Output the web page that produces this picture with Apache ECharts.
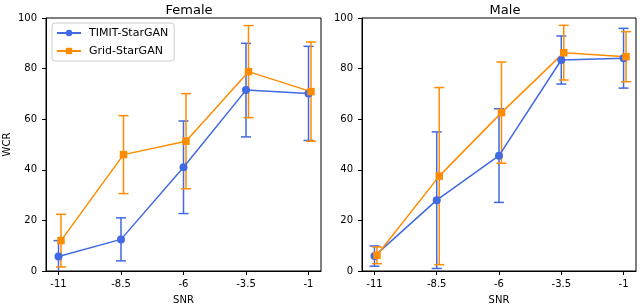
<!DOCTYPE html>
<html>
<head>
<meta charset="utf-8">
<script src="https://cdn.jsdelivr.net/npm/echarts@6/dist/echarts.min.js"></script>
<style>html,body{margin:0;padding:0;background:#fff}#c{width:640px;height:305px}</style>
</head>
<body>
<div id="c"></div>
<script>
const snrTicks = [-11, -8.5, -6, -3.5, -1];
const yTicks = [0, 20, 40, 60, 80, 100];
const seriesNames = ['TIMIT-StarGAN', 'Grid-StarGAN'];
const panelTitles = ['Female', 'Male'];
// Female
const femaleTimit = [5.7, 12.5, 41.0, 71.5, 70.2];
const femaleTimitErr = [6.3, 8.5, 18.3, 18.5, 18.6];
const femaleGrid = [12.0, 46.0, 51.3, 78.8, 70.9];
const femaleGridErr = [10.4, 15.4, 18.8, 18.2, 19.6];
// Male
const maleTimit = [5.9, 28.0, 45.6, 83.4, 84.1];
const maleTimitErr = [4.0, 27.0, 18.5, 9.5, 11.8];
const maleGrid = [6.2, 37.5, 62.6, 86.3, 84.7];
const maleGridErr = [3.3, 35.0, 20.0, 10.8, 9.9];

const BLUE = '#4169e1', ORANGE = '#ff8c00';
const FONT = 'DejaVu Sans';
const DODGE = 0.1; // small horizontal offset for second series

function pts(xs, ys, off) { return xs.map((x, i) => [x + off, ys[i]]); }
function errs(xs, ys, es, off) { return xs.map((x, i) => [x + off, ys[i] - es[i], ys[i] + es[i]]); }

function errSeries(idx, data, color) {
  return {
    type: 'custom', xAxisIndex: idx, yAxisIndex: idx, clip: true, silent: true,
    encode: { x: 0, y: [1, 2] },
    data: data,
    z: 1,
    renderItem: function (params, api) {
      const x = api.value(0), lo = api.value(1), hi = api.value(2);
      const a = api.coord([x, hi]), b = api.coord([x, lo]);
      const w = 5;
      const st = { stroke: color, lineWidth: 1.5, fill: null };
      return {
        type: 'group', children: [
          { type: 'line', shape: { x1: a[0], y1: a[1], x2: b[0], y2: b[1] }, style: st },
          { type: 'line', shape: { x1: a[0] - w, y1: a[1], x2: a[0] + w, y2: a[1] }, style: st },
          { type: 'line', shape: { x1: b[0] - w, y1: b[1], x2: b[0] + w, y2: b[1] }, style: st }
        ]
      };
    }
  };
}

function lineSeries(idx, name, data, color, symbol) {
  return {
    type: 'line', name: name, xAxisIndex: idx, yAxisIndex: idx, data: data,
    symbol: symbol, symbolSize: symbol === 'rect' ? 7.5 : 8,
    lineStyle: { color: color, width: 1.5 },
    itemStyle: { color: color },
    z: 3, animation: false
  };
}

function xAxis(idx) {
  return {
    type: 'value', gridIndex: idx, min: -11.5, max: -0.5,
    name: 'SNR', nameLocation: 'middle', nameGap: 24,
    nameTextStyle: { fontFamily: FONT, fontSize: 10, color: '#000' },
    axisLine: { show: true, onZero: false, lineStyle: { color: '#000', width: 1 } },
    axisTick: { show: true, length: 4, lineStyle: { color: '#000' }, customValues: snrTicks },
    axisLabel: { fontFamily: FONT, fontSize: 10, color: '#000', margin: 8, customValues: snrTicks, formatter: v => String(v) },
    splitLine: { show: false }
  };
}
function yAxis(idx, withName) {
  return {
    type: 'value', gridIndex: idx, min: 0, max: 100, interval: 20,
    name: withName ? 'WCR' : '', nameLocation: 'middle', nameGap: 34,
    nameTextStyle: { fontFamily: FONT, fontSize: 10, color: '#000' },
    axisLine: { show: true, lineStyle: { color: '#000', width: 1 } },
    axisTick: { show: true, length: 4, lineStyle: { color: '#000' } },
    axisLabel: { fontFamily: FONT, fontSize: 10, color: '#000', margin: 9 },
    splitLine: { show: false }
  };
}

const chart = echarts.init(document.getElementById('c'), null, { renderer: 'canvas' });
chart.setOption({
  animation: false,
  backgroundColor: '#fff',
  title: [
    { text: panelTitles[0], left: 184, top: -1, textAlign: 'center', textStyle: { fontFamily: FONT, fontSize: 13, fontWeight: 'normal', color: '#000' } },
    { text: panelTitles[1], left: 500, top: -1, textAlign: 'center', textStyle: { fontFamily: FONT, fontSize: 13, fontWeight: 'normal', color: '#000' } }
  ],
  grid: [
    { left: 46, right: 319, top: 18, bottom: 34, show: true, borderColor: '#000', borderWidth: 1, containLabel: false, outerBoundsMode: 'none' },
    { left: 362, right: 4, top: 18, bottom: 34, show: true, borderColor: '#000', borderWidth: 1, containLabel: false, outerBoundsMode: 'none' }
  ],
  legend: {
    data: seriesNames, orient: 'vertical', left: 52, top: 23,
    itemWidth: 24, itemHeight: 8, itemGap: 6,
    padding: [4, 6, 4, 4],
    borderColor: '#ccc', borderWidth: 1, borderRadius: 3,
    textStyle: { fontFamily: FONT, fontSize: 11, color: '#000', lineHeight: 12, padding: [0, 0, 0, 3] }
  },
  xAxis: [xAxis(0), xAxis(1)],
  yAxis: [yAxis(0, true), yAxis(1, false)],
  series: [
    errSeries(0, errs(snrTicks, femaleTimit, femaleTimitErr, 0), BLUE),
    lineSeries(0, seriesNames[0], pts(snrTicks, femaleTimit, 0), BLUE, 'circle'),
    errSeries(0, errs(snrTicks, femaleGrid, femaleGridErr, DODGE), ORANGE),
    lineSeries(0, seriesNames[1], pts(snrTicks, femaleGrid, DODGE), ORANGE, 'rect'),
    errSeries(1, errs(snrTicks, maleTimit, maleTimitErr, 0), BLUE),
    lineSeries(1, seriesNames[0], pts(snrTicks, maleTimit, 0), BLUE, 'circle'),
    errSeries(1, errs(snrTicks, maleGrid, maleGridErr, DODGE), ORANGE),
    lineSeries(1, seriesNames[1], pts(snrTicks, maleGrid, DODGE), ORANGE, 'rect')
  ]
});
</script>
</body>
</html>
